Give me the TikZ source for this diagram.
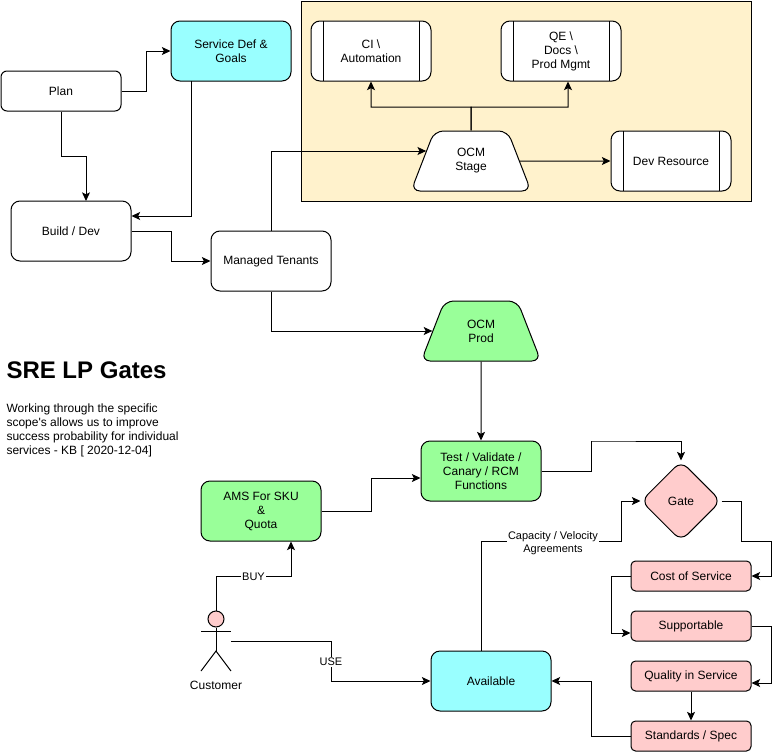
\documentclass[tikz,border=0pt]{standalone}
\usepackage{fontspec}
\setmainfont{Liberation Sans}
\usepackage{xcolor}
\usetikzlibrary{shapes.geometric,arrows.meta}
\definecolor{tealfill}{RGB}{153,255,255}
\definecolor{greenfill}{RGB}{153,255,153}
\definecolor{pinkfill}{RGB}{255,204,204}
\definecolor{stagefill}{RGB}{255,242,204}

\begin{document}
\begin{tikzpicture}[x=0.75pt, y=-0.75pt, line width=0.75pt, font=\fontsize{9}{10.5}\selectfont]
% Define styles
\tikzstyle{process} = [rectangle, rounded corners=6.75pt, minimum width=90pt, minimum height=45pt, inner sep=0pt, align=center, draw=black, fill=white]
\tikzstyle{small} = [process, rounded corners=4.5pt, minimum height=30pt]
\tikzstyle{check} = [process, rounded corners=3.4pt, minimum height=22.5pt, fill=pinkfill]
\tikzstyle{resource} = [process, path picture={
  \draw ([xshift=9pt]path picture bounding box.north west) -- ([xshift=9pt]path picture bounding box.south west);
  \draw ([xshift=-9pt]path picture bounding box.north east) -- ([xshift=-9pt]path picture bounding box.south east);}]
\tikzstyle{stage} = [trapezium, trapezium left angle=68.2, trapezium right angle=68.2, trapezium stretches=true, rounded corners=6.75pt, minimum width=90pt, minimum height=45pt, inner sep=0pt, align=center, draw=black]
\tikzstyle{arrow} = [->,>={Stealth[length=6.5pt,width=6pt,inset=1.5pt]}]
\tikzstyle{edgelabel} = [fill=white, inner sep=1pt, yshift=-0.75pt, align=center, font=\fontsize{8.25}{9.75}\selectfont]

\useasboundingbox (0,0) rectangle (782,753);

% Place nodes
\node [draw=black, fill=stagefill, minimum width=337.5pt, minimum height=150pt, inner sep=0pt] (stagebox) at (526.5,101) {};
\node [small] (plan) at (61,91) {Plan};
\node [process, fill=tealfill] (service) at (231,51) {Service Def \&\\Goals};
\node [process] (build) at (71,231) {Build / Dev};
\node [process] (tenants) at (271,261) {Managed Tenants};
\node [resource] (ci) at (371,51) {CI \textbackslash\\Automation};
\node [resource] (qe) at (561,51) {QE \textbackslash\\Docs \textbackslash\\Prod Mgmt};
\node [stage, fill=white] (ocmstage) at (471,161) {OCM\\Stage};
\node [resource] (devres) at (671,161) {Dev Resource};
\node [stage, fill=greenfill] (ocmprod) at (481,331) {OCM\\Prod};
\node [process, fill=greenfill] (test) at (481,471) {Test / Validate /\\Canary / RCM\\Functions};
\node [process, fill=greenfill] (ams) at (261,511) {AMS For SKU\\\&\\Quota};
\node [diamond, aspect=1, minimum size=60pt, inner sep=0pt, rounded corners=6.75pt, draw=black, fill=pinkfill] (gate) at (681,501) {Gate};
\node [check] (cost) at (691,576) {Cost of Service};
\node [check] (supportable) at (691,626) {Supportable};
\node [check] (quality) at (691,676) {Quality in Service};
\node [check] (standards) at (691,736) {Standards / Spec};
\node [process, fill=tealfill] (available) at (491,681) {Available};
\node [anchor=west, inner sep=0pt, font=\bfseries\fontsize{18}{21}\selectfont] (title) at (6,370) {SRE LP Gates};
\node [anchor=north west, inner sep=0pt, align=left] (blurb) at (6,403) {Working through the specific\\scope\textquotesingle s allows us to improve\\success probability for individual\\services - KB [ 2020-12-04]};

% Customer figure
\node [circle, draw=black, fill=pinkfill, minimum size=12pt, inner sep=0pt] (head) at (216,619) {};
\coordinate (hip) at (216,651);
\coordinate (hand) at (231,641);
\draw (head) -- (hip);
\draw (201,631) -- (231,631);
\draw (201,671) -- (hip) -- (231,671);
\node (customer) at (216,685.5) {Customer};

% Draw arrows
\draw [arrow] (plan.east) -- ++(25,0) |- (service.west);
\draw [arrow] (plan.south) -- ++(0,45) -| (86,201);
\draw [arrow] (191,81) |- (build.east |- 0,216);
\draw [arrow] (build.east) -- ++(40,0) |- (tenants.west);
\draw [arrow] (tenants.north) |- ([xshift=3pt,yshift=7.5pt]ocmstage.west);
\draw [arrow] (tenants.south) |- (ocmprod.west);
\draw [arrow] (ocmstage.north) -- (471,107) -| (ci.south);
\draw [arrow] (ocmstage.north) -- (471,107) -| ([xshift=5.25pt]qe.south);
\draw [arrow] (ocmstage.east) -- (devres.west);
\draw [arrow] (ocmprod.south) -- (test.north);
\draw [arrow] (test.east) -- ++(50,0) |- (591,441) -| (gate.north);
\draw [arrow] (ams.east) -- ++(50,0) |- ([yshift=-5.25pt]test.west);
\draw [arrow] (head.north) |- node [edgelabel, pos=0.75] {BUY} (291,576) -- (ams.south -| 291,0);
\draw [arrow] (hand) -- (331,641) |- (available.west) node [edgelabel, pos=0.25] {USE};
\draw [arrow] (481,651) |- (621,541) node [edgelabel, pos=0.757, yshift=-0.75pt] {Capacity / Velocity\\Agreements} |- (gate.west);
\draw [arrow] (gate.east) -- (741,501) |- (771,541) |- (cost.east);
\draw [arrow] (cost.west) -- (611,576) |- ([yshift=-5.25pt]supportable.west);
\draw [arrow] (supportable.east) -- (771,626) |- ([yshift=-5.25pt]quality.east);
\draw [arrow] (quality.south) -- (standards.north);
\draw [arrow] (standards.west) -- (591,736) |- (available.east);
\end{tikzpicture}
\end{document}
